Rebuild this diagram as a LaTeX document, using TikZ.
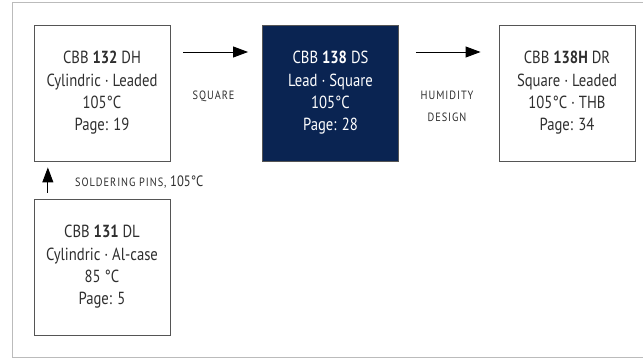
\documentclass[tikz,border=0pt]{standalone}
\usepackage{fontspec}
\setmainfont{PT Sans}[FakeStretch=0.84]
\newfontfamily\lblfont{PT Sans}[FakeStretch=0.86, LetterSpace=8]
\usetikzlibrary{arrows.meta}
\definecolor{navy}{HTML}{0A2452}
\definecolor{txt}{HTML}{2E2E2E}
\definecolor{boxline}{HTML}{555555}
\definecolor{frame}{HTML}{BBBBBB}
\begin{document}
\begin{tikzpicture}[x=1pt,y=-1pt,
  box/.style={draw=boxline, line width=0.9pt, minimum width=136pt, minimum height=136pt,
    align=center, font=\fontsize{17.5}{22.3}\selectfont, text=txt, inner sep=0pt},
  arr/.style={-{Triangle[length=15pt,width=11pt]}, line width=0.9pt, draw=black},
  lbl/.style={font=\lblfont\fontsize{12}{22.5}\selectfont, text=txt, align=center}]
\useasboundingbox (0,0) rectangle (643,358);
\begin{scope}
\clip (0,0) rectangle (643,358);
\draw[frame, line width=0.9pt] (12.7,2.7) rectangle (700,357.3);
\end{scope}
\node[box] (b132) at (102,93) {CBB \textbf{132} DH\\Cylindric · Leaded\\105°C\\Page: 19};
\node[box, fill=navy, text=white] (b138) at (330.5,93) {CBB \textbf{138} DS\\Lead · Square\\105°C\\Page: 28};
\node[box] (b138h) at (567,93) {CBB \textbf{138H} DR\\Square · Leaded\\105°C · THB\\Page: 34};
\node[box] (b131) at (102,267) {CBB \textbf{131} DL\\Cylindric · Al-case\\85 °C\\Page: 5};
\draw[arr, shorten <=13pt, shorten >=14pt] ([yshift=41pt]b132.east) -- ([yshift=41pt]b138.west);
\draw[arr, shorten <=17pt, shorten >=18pt] ([yshift=41pt]b138.east) -- ([yshift=41pt]b138h.west);
\draw[arr, shorten <=6pt, shorten >=6pt] ([xshift=14.3pt]b131.north west) -- ([xshift=14.3pt]b132.south west);
\node[lbl] (lsq) at (213.5,96) {SQUARE};
\node[lbl] (lhd) at (447,106.5) {HUMIDITY\\DESIGN};
\node[lbl, anchor=west, inner sep=0pt] (lsp) at (75,181.7) {SOLDERING PINS, {\normalfont\fontsize{15}{16}\selectfont 105°C}};
\end{tikzpicture}
\end{document}
